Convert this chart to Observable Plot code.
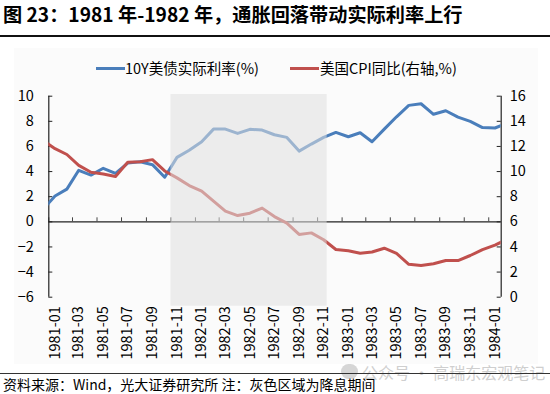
<!DOCTYPE html>
<html>
<head>
<meta charset="utf-8">
<script src="https://cdn.jsdelivr.net/npm/d3@7"></script>
<script src="https://cdn.jsdelivr.net/npm/@observablehq/plot@0.6"></script>
<style>
  html, body { margin: 0; padding: 0; }
  body { width: 550px; height: 394px; position: relative; overflow: hidden; background: #fff;
         font-family: "Noto Sans CJK SC", "Noto Sans", sans-serif; color: #000; }
  #title { position: absolute; left: 3px; top: 0px; font-size: 19.2px; font-weight: bold; line-height: 28px; white-space: nowrap; }
  #rule1 { position: absolute; left: 0; top: 35px; width: 550px; height: 1.5px; background: #111; }
  #box { position: absolute; left: 14px; top: 48px; width: 524px; height: 316px; background: #fbfbfb; }
  .leg { position: absolute; top: 58px; font-size: 14.5px; line-height: 20px; white-space: nowrap; }
  .sw { position: absolute; top: 66.5px; width: 29px; height: 3px; }
  #chart { position: absolute; left: 0; top: 80px; }
  #rule2 { position: absolute; left: 0; top: 373px; width: 550px; height: 1px; background: #333; }
  #wm { position: absolute; left: 362px; top: 361px; font-size: 16px; line-height: 22px; color: #cfcfcf; white-space: nowrap; }
  #wmi { position: absolute; left: 341px; top: 364px; width: 17px; height: 15px; border-radius: 8px; background: #d6d6d6; }
  #foot { position: absolute; left: 3px; top: 374px; font-size: 14px; line-height: 20px; white-space: nowrap; }
</style>
</head>
<body>
<div id="title">图 23：1981 年-1982 年，通胀回落带动实际利率上行</div>
<div id="rule1"></div>
<div id="box"></div>
<div class="sw" style="left:96px;background:#4a7ebb"></div>
<div class="leg" style="left:125px">10Y美债实际利率(%)</div>
<div class="sw" style="left:290px;background:#c0504d"></div>
<div class="leg" style="left:320px">美国CPI同比(右轴,%)</div>
<div id="chart"></div>
<div id="wmi"></div>
<div id="wm">公众号 · 高瑞东宏观笔记</div>
<div id="rule2"></div>
<div id="foot">资料来源：Wind，光大证券研究所 注：灰色区域为降息期间</div>
<script>
// ---- data (monthly, 1980-12 .. 1984-02; the first and last month are cut by the frame) ----
const months = [
  "1980-12",
  "1981-01","1981-02","1981-03","1981-04","1981-05","1981-06","1981-07","1981-08","1981-09","1981-10","1981-11","1981-12",
  "1982-01","1982-02","1982-03","1982-04","1982-05","1982-06","1982-07","1982-08","1982-09","1982-10","1982-11","1982-12",
  "1983-01","1983-02","1983-03","1983-04","1983-05","1983-06","1983-07","1983-08","1983-09","1983-10","1983-11","1983-12",
  "1984-01","1984-02"
];
const realRate = [
  0.95,
  2.05, 2.6, 4.1, 3.72, 4.26, 3.85, 4.68, 4.78, 4.55, 3.55, 5.13, 5.7,
  6.37, 7.38, 7.38, 7.04, 7.36, 7.3, 6.93, 6.72, 5.63, 6.19, 6.72, 7.12,
  6.77, 7.09, 6.37, 7.38, 8.36, 9.27, 9.4, 8.56, 8.84, 8.33, 8.0, 7.5,
  7.47, 7.85
];
const cpi = [
  12.5,
  11.82, 11.36, 10.49, 9.95, 9.8, 9.61, 10.75, 10.78, 10.95, 10.05, 9.5, 8.89,
  8.44, 7.64, 6.85, 6.5, 6.69, 7.09, 6.42, 5.9, 5.0, 5.12, 4.57, 3.8,
  3.7, 3.5, 3.6, 3.9, 3.48, 2.62, 2.52, 2.66, 2.92, 2.92, 3.32, 3.78,
  4.15, 4.6
];
const labelMonths = ["1981-01","1981-03","1981-05","1981-07","1981-09","1981-11",
  "1982-01","1982-03","1982-05","1982-07","1982-09","1982-11",
  "1983-01","1983-03","1983-05","1983-07","1983-09","1983-11","1984-01"];
const xEdges = ["1981-01", "1984-02"];          // frame edges (month starts)
const shadeMonths = ["1981-11", "1982-11"];     // rate-cut period
const leftDomain = [-6, 10];
const rightDomain = [0, 16];
const leftTicks = [-6, -4, -2, 0, 2, 4, 6, 8, 10];

// ---- helpers ----
const parse = d3.utcParse("%Y-%m");
const mid = m => new Date((+m + +d3.utcMonth.offset(m, 1)) / 2);
const toLeft = d3.scaleLinear().domain(rightDomain).range(leftDomain);
const rows = months.map((m, i) => ({date: mid(parse(m)), rate: realRate[i], cpi: cpi[i]}));
const xStart = parse(xEdges[0]), xEnd = parse(xEdges[1]);
const labelDates = labelMonths.map(m => mid(parse(m)));
const tickDates = labelMonths.map(parse);
const shade = {start: parse(shadeMonths[0]), end: d3.utcMonth.offset(parse(shadeMonths[1]), 1)};
const FONT = '"Noto Sans CJK SC", "Noto Sans", sans-serif';
const BLUE = "#4a7ebb", RED = "#c0504d";

const chart = Plot.plot({
  width: 550, height: 290,
  marginLeft: 48.3, marginRight: 49.3, marginTop: 15.7, marginBottom: 73.3,
  style: {fontFamily: FONT, fontSize: "14.5px", color: "#000", background: "transparent", overflow: "visible"},
  x: {type: "utc", domain: [xStart, xEnd]},
  y: {domain: leftDomain},
  marks: [
    // x axis at zero with upward ticks
    Plot.ruleY([0], {x1: () => xStart, x2: () => xEnd, stroke: "#222", strokeWidth: 1.2}),
    Plot.ruleX(tickDates, {x: d => d, y1: () => 0, y2: () => 0, insetTop: -4, stroke: "#444"}),
    // left and right axis lines with inward ticks
    Plot.ruleX([xStart], {x: d => d, y1: () => leftDomain[0], y2: () => leftDomain[1], stroke: "#222", strokeWidth: 1.2}),
    Plot.ruleX([xEnd], {x: d => d, y1: () => leftDomain[0], y2: () => leftDomain[1], stroke: "#222", strokeWidth: 1.2}),
    Plot.ruleY(leftTicks, {y: d => d, x1: () => xStart, x2: () => xStart, insetRight: -4, stroke: "#222"}),
    Plot.ruleY(leftTicks, {y: d => d, x1: () => xEnd, x2: () => xEnd, insetLeft: -4, stroke: "#222"}),
    // series
    Plot.lineY(rows, {x: "date", y: "rate", stroke: BLUE, strokeWidth: 3, clip: true}),
    Plot.lineY(rows, {x: "date", y: d => toLeft(d.cpi), stroke: RED, strokeWidth: 3, clip: true}),
    // rate-cut shading drawn over the lines
    Plot.rect([shade], {x1: "start", x2: "end", y1: () => leftDomain[0], y2: () => leftDomain[1],
      insetTop: -1.7, insetBottom: -9, insetRight: 2.5, fill: "#e0e0e0", fillOpacity: 0.55}),
    // axis labels
    Plot.axisY(leftTicks, {anchor: "left", tickSize: 0, tickPadding: 15, label: null, fontSize: 14.5}),
    Plot.axisY(leftTicks, {anchor: "right", tickSize: 0, tickPadding: 8.5, label: null, fontSize: 14.5,
      tickFormat: d => String(Math.round(toLeft.invert(d)))}),
    Plot.axisX(labelDates, {anchor: "bottom", tickSize: 0, tickPadding: 9, tickRotate: -90, label: null,
      fontSize: 14.5, tickFormat: d3.utcFormat("%Y-%m")})
  ]
});
document.getElementById("chart").appendChild(chart);
</script>
</body>
</html>
